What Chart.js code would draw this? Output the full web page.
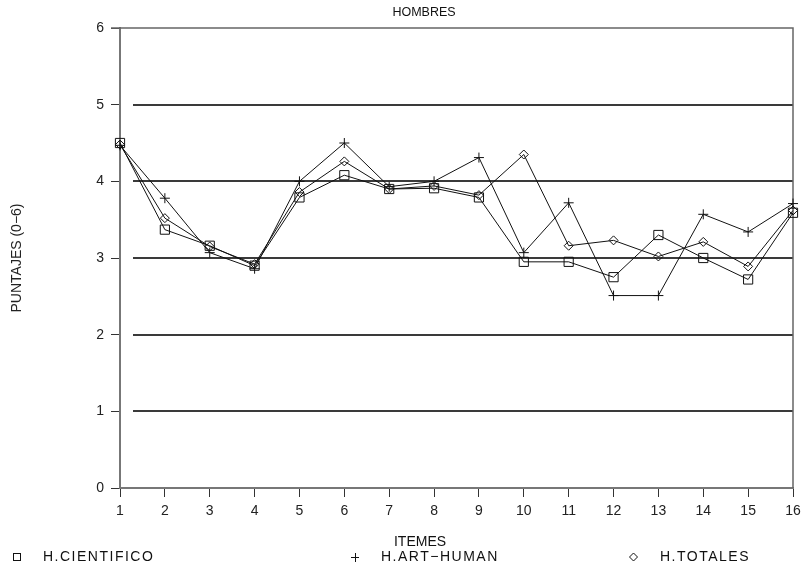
<!DOCTYPE html>
<html>
<head>
<meta charset="utf-8">
<script src="https://cdn.jsdelivr.net/npm/chart.js@4"></script>
<style>
  html, body { margin: 0; padding: 0; background: #fff; }
  #wrap { width: 809px; height: 568px; }
</style>
</head>
<body>
<div id="wrap"><canvas id="chart" width="809" height="568"></canvas></div>
<script>
// values
const items = ["1", "2", "3", "4", "5", "6", "7", "8", "9", "10", "11", "12", "13", "14", "15", "16"];
const cientifico = [4.5, 3.37, 3.16, 2.90, 3.79, 4.08, 3.90, 3.91, 3.79, 2.95, 2.95, 2.75, 3.30, 3.00, 2.72, 3.59];
const artHuman = [4.47, 3.78, 3.07, 2.86, 4.00, 4.50, 3.93, 4.00, 4.31, 3.07, 3.72, 2.51, 2.51, 3.57, 3.34, 3.71];
const totales = [4.48, 3.52, 3.15, 2.92, 3.86, 4.26, 3.90, 3.94, 3.82, 4.35, 3.16, 3.23, 3.02, 3.21, 2.89, 3.62];
const gridValues = [1, 2, 3, 4, 5];

const FONT = "'Liberation Sans', Arial, sans-serif";

// horizontal grid lines start a bit right of the axis, plus the frame
const framePlugin = {
  id: "frame",
  beforeDatasetsDraw(chart) {
    const { ctx, chartArea } = chart;
    const y = chart.scales.y;
    ctx.save();
    ctx.strokeStyle = "#3a3a3a";
    ctx.lineWidth = 2;
    gridValues.forEach((v) => {
      const py = Math.round(y.getPixelForValue(v));
      ctx.beginPath();
      ctx.moveTo(chartArea.left + 13, py);
      ctx.lineTo(chartArea.right, py);
      ctx.stroke();
    });
    ctx.strokeStyle = "#666";
    ctx.lineWidth = 1.5;
    const top = y.getPixelForValue(6);
    ctx.beginPath();
    ctx.moveTo(chartArea.left - 9, top);
    ctx.lineTo(chartArea.right, top);
    ctx.lineTo(chartArea.right, y.getPixelForValue(0));
    ctx.stroke();
    ctx.restore();
  },
  afterDraw(chart) {
    const { ctx } = chart;
    ctx.save();
    ctx.fillStyle = "#111";
    ctx.textBaseline = "middle";
    ctx.textAlign = "center";
    ctx.font = "12.5px " + FONT;
    ctx.fillText("HOMBRES", 424, 13);
    ctx.font = "14px " + FONT;
    ctx.fillText("ITEMES", 420, 542);

    // legend
    ctx.textAlign = "left";
    ctx.letterSpacing = "1.5px";
    ctx.fillText("H.CIENTIFICO", 43, 557);
    ctx.fillText("H.ART\u2212HUMAN", 381, 557);
    ctx.fillText("H.TOTALES", 660, 557);
    ctx.strokeStyle = "#111";
    ctx.lineWidth = 1;
    ctx.strokeRect(13.5, 553.5, 7, 7);
    ctx.beginPath();
    ctx.moveTo(351, 557.5); ctx.lineTo(359, 557.5);
    ctx.moveTo(355.5, 553); ctx.lineTo(355.5, 562);
    ctx.moveTo(633.5, 553); ctx.lineTo(637.5, 557); ctx.lineTo(633.5, 561); ctx.lineTo(629.5, 557); ctx.closePath();
    ctx.stroke();
    ctx.restore();
  }
};

const common = {
  borderColor: "#111",
  borderWidth: 1,
  pointBorderColor: "#111",
  pointBackgroundColor: "rgba(255,255,255,0)",
  pointBorderWidth: 1,
  tension: 0,
  fill: false
};

new Chart(document.getElementById("chart").getContext("2d"), {
  type: "line",
  data: {
    labels: items,
    datasets: [
      { ...common, label: "H.CIENTIFICO", data: cientifico, pointStyle: "rect", pointRadius: 6.5 },
      { ...common, label: "H.ART-HUMAN", data: artHuman, pointStyle: "cross", pointRadius: 5 },
      { ...common, label: "H.TOTALES", data: totales, pointStyle: "rectRot", pointRadius: 4.5 }
    ]
  },
  options: {
    responsive: false,
    animation: false,
    layout: { padding: { top: 28, right: 16, left: 0, bottom: 0 } },
    plugins: {
      legend: { display: false },
      title: { display: false },
      tooltip: { enabled: false }
    },
    scales: {
      x: {
        type: "category",
        offset: false,
        grid: { drawOnChartArea: false, drawTicks: true, tickLength: 9, color: "#333", lineWidth: 1 },
        border: { color: "#777", width: 2 },
        ticks: { font: { family: FONT, size: 14 }, color: "#222", padding: 6, maxRotation: 0, autoSkip: false },
        afterFit(scale) { scale.height = 80; }
      },
      y: {
        min: 0,
        max: 6,
        grid: { drawOnChartArea: false, drawTicks: true, tickLength: 9, color: "#333", lineWidth: 1 },
        border: { color: "#777", width: 2 },
        ticks: { stepSize: 1, font: { family: FONT, size: 14 }, color: "#222", padding: 7 },
        title: {
          display: true,
          text: "PUNTAJES (0\u22126)",
          font: { family: FONT, size: 14 },
          color: "#222",
          padding: { top: 9, bottom: 0 }
        },
        afterFit(scale) { scale.width = 120; }
      }
    }
  },
  plugins: [framePlugin]
});
</script>
</body>
</html>
